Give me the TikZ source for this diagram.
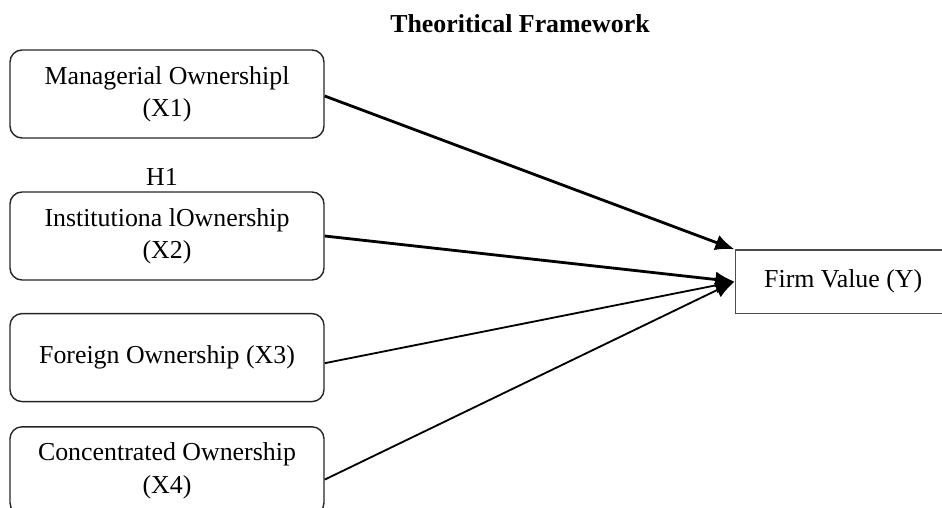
\documentclass[tikz,border=0pt]{standalone}
\usepackage{fontspec}
\setmainfont{Liberation Serif}
\usepackage{tikz}
\usetikzlibrary{arrows.meta}

\tikzset{
 ownbox/.style={rectangle,draw=black!85,line width=1pt,rounded corners=0.3cm,
   minimum width=7.85cm,minimum height=2.2cm,align=center,inner sep=0pt},
 valbox/.style={rectangle,draw=black!70,line width=0.9pt,
   minimum width=5.4cm,minimum height=1.58cm,inner sep=0pt},
 strong/.style={line width=2pt,-{Latex[length=0.48cm,width=0.4cm]}},
 weak/.style={line width=1.3pt,-{Latex[length=0.48cm,width=0.4cm]}}
}

\begin{document}
\begin{tikzpicture}[font=\fontsize{18.4}{22.8}\selectfont]
 \useasboundingbox (0,0) rectangle (23.55,-12.7);
 \clip (0,0) rectangle (23.55,-12.7);

 \node at (13,-0.6) [font=\fontsize{18.4}{22.8}\selectfont\bfseries] (title) {Theoritical Framework};

 \node at (4.175,-2.35) [ownbox] (1) {Managerial Ownershipl\\(X1)};
 \node at (4.05,-4.43) (h) {H1};
 \node at (4.175,-5.9) [ownbox] (2) {Institutiona lOwnership\\(X2)};
 \node at (4.175,-8.94) [ownbox] (3) {Foreign Ownership (X3)};
 \node at (4.175,-11.77) [ownbox] (4) {Concentrated Ownership\\(X4)};

 \node at (21.08,-7.04) [valbox] (5) {Firm Value (Y)};

 \draw[strong] ([yshift=-0.05cm]1.east)--(5.north west);
 \draw[strong] (2.east)--(5.west);
 \draw[weak] ([yshift=-0.14cm]3.east)--(5.west);
 \draw[weak] ([yshift=-0.22cm]4.east)--(5.west);
\end{tikzpicture}
\end{document}
